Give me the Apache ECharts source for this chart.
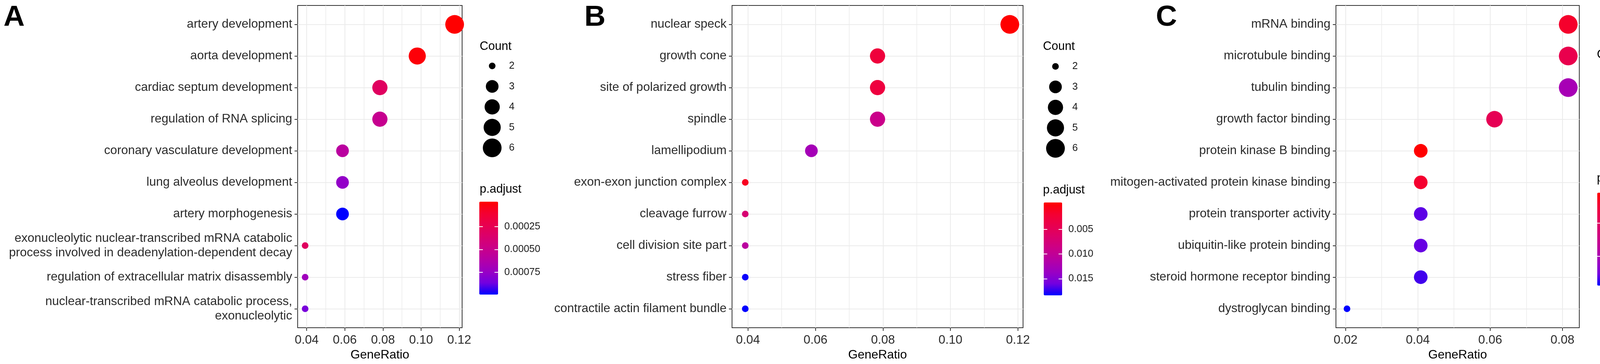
<!DOCTYPE html>
<html>
<head>
<meta charset="utf-8">
<title>GO enrichment dot plots</title>
<script src="https://cdn.jsdelivr.net/npm/echarts@6.0.0/dist/echarts.min.js"></script>
<style>
  html, body { margin: 0; padding: 0; background: #fff; }
  #chart { width: 4207px; height: 933px; }
</style>
</head>
<body>
<div id="chart"></div>
<script>
// ---- panel A: biological process ----
const catsA = ['artery development', 'aorta development', 'cardiac septum development',
    'regulation of RNA splicing', 'coronary vasculature development', 'lung alveolus development',
    'artery morphogenesis',
    'exonucleolytic nuclear-transcribed mRNA catabolic\nprocess involved in deadenylation-dependent decay',
    'regulation of extracellular matrix disassembly',
    'nuclear-transcribed mRNA catabolic process,\nexonucleolytic'];
const ratioA = [0.1176, 0.0980, 0.0784, 0.0784, 0.0588, 0.0588, 0.0588, 0.0392, 0.0392, 0.0392];
const countA = [6, 5, 4, 4, 3, 3, 3, 2, 2, 2];
const padjA = [0.0000012, 0.000021, 0.00031, 0.00051, 0.00058, 0.00075, 0.00097, 0.00031, 0.00070, 0.00083];
const ratioTicksA = [0.04, 0.06, 0.08, 0.10, 0.12];
const ratioMinorA = [0.05, 0.07, 0.09, 0.11];
const countBreaksA = [2, 3, 4, 5, 6];
const padjTicksA = [0.00025, 0.0005, 0.00075];

// ---- panel B: cellular component ----
const catsB = ['nuclear speck', 'growth cone', 'site of polarized growth', 'spindle', 'lamellipodium',
    'exon-exon junction complex', 'cleavage furrow', 'cell division site part', 'stress fiber',
    'contractile actin filament bundle'];
const ratioB = [0.1176, 0.0784, 0.0784, 0.0784, 0.0588, 0.0392, 0.0392, 0.0392, 0.0392, 0.0392];
const countB = [6, 4, 4, 4, 3, 2, 2, 2, 2, 2];
const padjB = [0.00002, 0.0031, 0.0033, 0.0090, 0.0125, 0.0015, 0.0072, 0.0107, 0.0177, 0.0179];
const ratioTicksB = [0.04, 0.06, 0.08, 0.10, 0.12];
const ratioMinorB = [0.05, 0.07, 0.09, 0.11];
const countBreaksB = [2, 3, 4, 5, 6];
const padjTicksB = [0.005, 0.010, 0.015];

// ---- panel C: molecular function ----
const catsC = ['mRNA binding', 'microtubule binding', 'tubulin binding', 'growth factor binding',
    'protein kinase B binding', 'mitogen-activated protein kinase binding', 'protein transporter activity',
    'ubiquitin-like protein binding', 'steroid hormone receptor binding', 'dystroglycan binding'];
const ratioC = [0.0816, 0.0816, 0.0816, 0.0612, 0.0408, 0.0408, 0.0408, 0.0408, 0.0408, 0.0204];
const countC = [4, 4, 4, 3, 2, 2, 2, 2, 2, 1];
const padjC = [0.0044, 0.0079, 0.0200, 0.0087, 0.0014, 0.0046, 0.0256, 0.0253, 0.0264, 0.0283];
const ratioTicksC = [0.02, 0.04, 0.06, 0.08];
const ratioMinorC = [0.03, 0.05, 0.07];
const countBreaksC = [1, 2, 3, 4];
const padjTicksC = [0.01, 0.02];

const FONT = '"Liberation Sans", Arial, sans-serif';
// red -> blue interpolated in Lab, like ggplot's gradient
const RED_BLUE = ['#FF0000', '#F40031', '#E8004F', '#DA006C', '#CA0089', '#B500A5', '#9A00C3', '#7300E0', '#0000FF'];

const panels = [
    {letter: 'A', cats: catsA, ratio: ratioA, count: countA, padj: padjA, ticks: ratioTicksA, minor: ratioMinorA,
     breaks: countBreaksA, padjTicks: padjTicksA, digits: 5,
     box: {left: 762, top: 14, width: 421, height: 826}, letterX: 9,
     countTitle: [1228, 120], countGrid: {left: 1235, top: 142.75, width: 50, height: 262.5},
     padjTitle: [1228, 486], bar: {left: 1227, top: 517, width: 48, height: 238}},
    {letter: 'B', cats: catsB, ratio: ratioB, count: countB, padj: padjB, ticks: ratioTicksB, minor: ratioMinorB,
     breaks: countBreaksB, padjTicks: padjTicksB, digits: 3,
     box: {left: 1874, top: 14, width: 745, height: 826}, letterX: 1496,
     countTitle: [2670, 120], countGrid: {left: 2677, top: 144, width: 50, height: 262.5},
     padjTitle: [2670, 488], bar: {left: 2672, top: 519, width: 47, height: 238}},
    {letter: 'C', cats: catsC, ratio: ratioC, count: countC, padj: padjC, ticks: ratioTicksC, minor: ratioMinorC,
     breaks: countBreaksC, padjTicks: padjTicksC, digits: 2,
     box: {left: 3420, top: 14, width: 623, height: 826}, letterX: 2959,
     countTitle: [4088, 141], countGrid: {left: 4095, top: 168.5, width: 50, height: 211},
     padjTitle: [4088, 458], bar: {left: 4089, top: 494, width: 47, height: 238}}
];

let grids = [], xAxes = [], yAxes = [], series = [], visualMaps = [], graphics = [];
const noLine = {show: false, onZero: false};

function addText(x, y, text, size, weight) {
    graphics.push({
        type: 'text', x: x, y: y, silent: true,
        style: {text: text, fontSize: size, fontWeight: weight || 'normal', fontFamily: FONT, fill: '#000',
            align: 'left', verticalAlign: 'middle', textAlign: 'left', textVerticalAlign: 'middle'}
    });
}

panels.forEach(function (p) {
    const n = p.cats.length;
    const lo = Math.min(...p.ratio), hi = Math.max(...p.ratio), pad = (hi - lo) * 0.05;
    const cLo = Math.min(...p.breaks), cHi = Math.max(...p.breaks);
    const dotSize = c => 17 + 31 * Math.sqrt((c - cLo) / (cHi - cLo));
    const pLo = Math.min(...p.padj), pHi = Math.max(...p.padj);
    const rows = p.cats.map((_, i) => i);

    // main dot plot
    let gi = grids.length;
    grids.push(Object.assign({show: true, borderColor: '#333', borderWidth: 2, backgroundColor: '#fff',
        outerBoundsMode: 'none'}, p.box));
    let xi = xAxes.length;
    xAxes.push({
        type: 'value', gridIndex: gi, min: lo - pad, max: hi + pad, position: 'bottom',
        name: 'GeneRatio', nameLocation: 'middle', nameGap: 54,
        nameTextStyle: {fontSize: 31.5, fontFamily: FONT, color: '#000'},
        axisLine: noLine,
        axisTick: {customValues: p.ticks, length: 8, lineStyle: {color: '#333', width: 2}},
        axisLabel: {customValues: p.ticks, formatter: v => v.toFixed(2), margin: 16,
            fontSize: 31.5, fontFamily: FONT, color: '#2b2b2b'},
        splitLine: {show: true, lineStyle: {color: '#EBEBEB', width: 2}}
    });
    // minor vertical grid lines only
    xAxes.push({
        type: 'value', gridIndex: gi, min: lo - pad, max: hi + pad, position: 'top',
        axisLine: noLine, axisLabel: {show: false},
        axisTick: {show: false, customValues: p.minor},
        splitLine: {show: true, lineStyle: {color: '#EBEBEB', width: 1.5}}
    });
    let yi = yAxes.length;
    yAxes.push({
        type: 'value', gridIndex: gi, min: -0.6, max: n - 0.4, inverse: true, position: 'left',
        axisLine: noLine,
        axisTick: {customValues: rows, length: 8, lineStyle: {color: '#333', width: 2}},
        axisLabel: {customValues: rows, formatter: v => p.cats[Math.round(v)], margin: 14,
            fontSize: 31.5, lineHeight: 37, fontFamily: FONT, color: '#2b2b2b'},
        splitLine: {show: true, lineStyle: {color: '#EBEBEB', width: 2}}
    });
    series.push({
        type: 'scatter', xAxisIndex: xi, yAxisIndex: yi, z: 5, silent: true,
        symbol: 'circle', symbolSize: v => dotSize(v[2]),
        itemStyle: {opacity: 1},
        data: p.ratio.map((r, i) => [r, i, p.count[i], p.padj[i]])
    });
    visualMaps.push({
        type: 'continuous', seriesIndex: series.length - 1, dimension: 3,
        min: pLo, max: pHi, inverse: true, calculable: false, hoverLink: false,
        left: p.bar.left, top: p.bar.top, itemWidth: p.bar.width, itemHeight: p.bar.height,
        padding: 0, inRange: {color: RED_BLUE}
    });

    // size legend (Count)
    gi = grids.length;
    grids.push(Object.assign({outerBoundsMode: 'none'}, p.countGrid));
    xi = xAxes.length;
    xAxes.push({type: 'category', gridIndex: gi, data: [''], show: false, axisLine: noLine});
    yi = yAxes.length;
    yAxes.push({
        type: 'category', gridIndex: gi, data: p.breaks.map(String), inverse: true, position: 'right',
        axisLine: noLine, axisTick: {show: false}, splitLine: {show: false},
        axisLabel: {interval: 0, margin: 18, fontSize: 25.5, fontFamily: FONT, color: '#1a1a1a', align: 'left'}
    });
    series.push({
        type: 'scatter', xAxisIndex: xi, yAxisIndex: yi, silent: true,
        symbol: 'circle', symbolSize: v => dotSize(v[2]),
        itemStyle: {color: '#000', opacity: 1},
        data: p.breaks.map((c, i) => [0, i, c])
    });

    // colour bar ticks and labels (p.adjust), inset by half a bin like ggplot
    const half = p.bar.height / 40;
    gi = grids.length;
    grids.push({left: p.bar.left, top: p.bar.top + half, width: p.bar.width,
        height: p.bar.height - 2 * half, outerBoundsMode: 'none'});
    xAxes.push({type: 'value', gridIndex: gi, min: 0, max: 1, show: false, axisLine: noLine});
    const barTick = {customValues: p.padjTicks, inside: true, length: 9, lineStyle: {color: '#fff', width: 2}};
    yAxes.push({
        type: 'value', gridIndex: gi, min: pLo, max: pHi, inverse: true, position: 'right', z: 10,
        axisLine: noLine, axisTick: barTick, splitLine: {show: false},
        axisLabel: {customValues: p.padjTicks, formatter: v => v.toFixed(p.digits), margin: 16,
            fontSize: 25.5, fontFamily: FONT, color: '#1a1a1a'}
    });
    yAxes.push({
        type: 'value', gridIndex: gi, min: pLo, max: pHi, inverse: true, position: 'left', z: 10,
        axisLine: noLine, axisTick: barTick, splitLine: {show: false}, axisLabel: {show: false}
    });

    addText(p.letterX, 45, p.letter, 75, 'bold');
    addText(p.countTitle[0], p.countTitle[1], 'Count', 30.5);
    addText(p.padjTitle[0], p.padjTitle[1], 'p.adjust', 30.5);
});

const chart = echarts.init(document.getElementById('chart'));
chart.setOption({
    animation: false,
    backgroundColor: '#fff',
    grid: grids,
    xAxis: xAxes,
    yAxis: yAxes,
    visualMap: visualMaps,
    series: series,
    graphic: graphics
});
</script>
</body>
</html>
